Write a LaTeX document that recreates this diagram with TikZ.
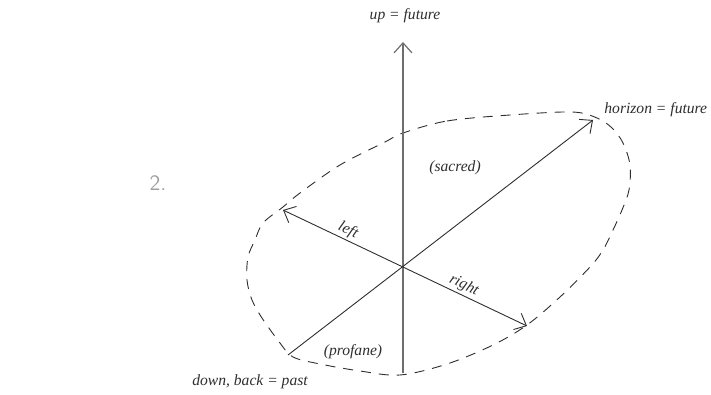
\documentclass[tikz,border=0pt]{standalone}
\usepackage{xcolor,tikz}
\usepackage{fontspec}
\setmainfont{Liberation Serif}
\usetikzlibrary{arrows.meta,positioning,calc}
\definecolor{ink}{HTML}{2E2E2E}
\definecolor{axisc}{HTML}{6E6E6E}
\definecolor{numc}{HTML}{A0A0A0}
\tikzset{
  ax/.style={-{Straight Barb[length=5pt, width=9pt]}, draw=ink, line width=0.45pt},
  upax/.style={ax, draw=axisc, line width=0.6pt},
  both/.style={{Straight Barb[length=5pt, width=9pt]}-{Straight Barb[length=5pt, width=9pt]}, draw=ink, line width=0.45pt},
  rim/.style={draw=ink, line width=0.45pt, dash pattern=on 5pt off 4pt},
  lbl/.style={font=\fontsize{7.8}{9}\selectfont\itshape, text=ink, inner sep=1pt},
  num/.style={font=\fontsize{11}{12}\selectfont\sffamily, text=numc},
}

\begin{document}
\begin{tikzpicture}[x=0.5pt, y=-0.5pt]
  \useasboundingbox (0,0) rectangle (711,395);
  % axes
  \coordinate (O) at (403,267);
  \coordinate (up) at (403,42);
  \coordinate (dn) at (403,373);
  \coordinate (hz) at (593,120);
  \coordinate (past) at (288,355);
  \coordinate (lt) at (283,210);
  \coordinate (rt) at (527,326);
  % dashed rim
  \draw[rim] plot[smooth cycle, tension=0.55] coordinates {
    (403,133) (447,121) (510,115) (572,112) (597,118) (612,128) (623,143)
    (630,165) (629,190) (622,210) (613,230) (603,250) (590,267) (560,297)
    (527,325) (493,345) (447,364) (400,375) (360,371) (320,364) (293,357)
    (280,343) (262,318) (252,300) (247,280) (248,257) (255,240) (263,223)
    (283,207) (300,193) (340,165) (385,142)};
  \draw[upax] (dn) -- (up);
  \draw[ax] (past) -- (hz);
  \draw[both] (lt) -- node[lbl, sloped, above, pos=0.25] {left}
    node[lbl, sloped, above, pos=0.725] {right} (rt);
  % labels
  \node[lbl] (uplbl) at (405,16) {up = future};
  \node[lbl, anchor=west] (hzlbl) at (602,110) {horizon = future};
  \node[lbl] (sacred) at (455,168) {(sacred)};
  \node[lbl] (profane) at (353,352) {(profane)};
  \node[lbl] (pastlbl) at (250,382) {down, back = past};
  \node[num] (two) at (158,183) {2.};
\end{tikzpicture}
\end{document}
